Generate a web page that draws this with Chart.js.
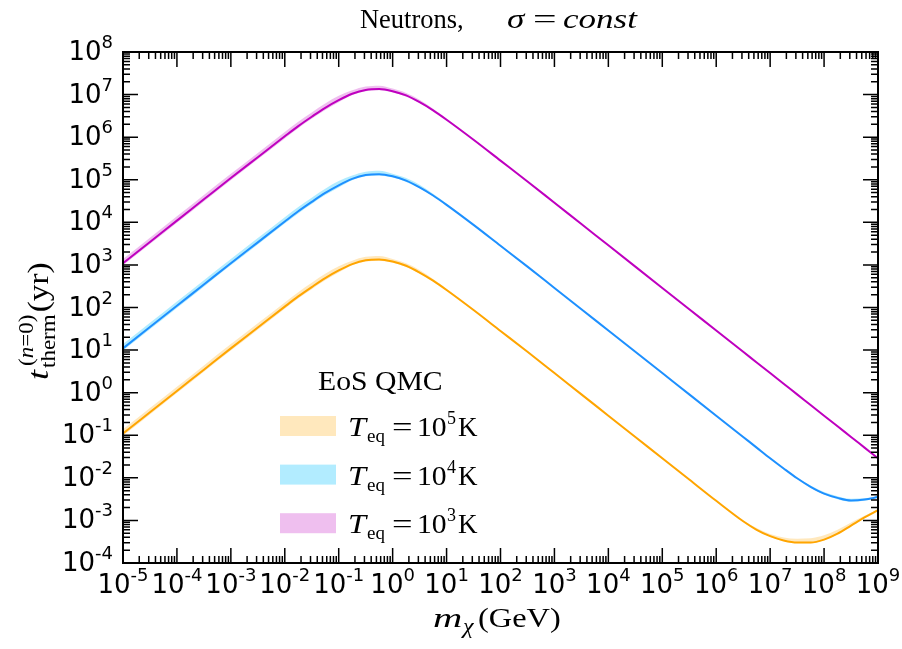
<!DOCTYPE html>
<html>
<head>
<meta charset="utf-8">
<script src="https://cdn.jsdelivr.net/npm/chart.js@4"></script>
<style>
  html, body { margin: 0; padding: 0; background: #fff; }
  #wrap { width: 902px; height: 649px; }
</style>
</head>
<body>
<div id="wrap"><canvas id="chart"></canvas></div>
<script>
// dark matter mass, as log10(m / GeV)
const massExp = [-5, -4.5, -4, -3.5, -3, -2.5, -2, -1.75, -1.5, -1.25, -1, -0.75, -0.5, -0.25,
  0, 0.25, 0.5, 0.75, 1, 1.5, 2, 2.5, 3, 3.5, 4, 4.5, 5, 5.5, 6, 6.5,
  6.75, 7, 7.25, 7.5, 7.75, 8, 8.25, 8.5, 8.75, 9];

// thermalisation time, as log10(t / yr)
const tEq1e5 = [-0.96, -0.46, 0.04, 0.54, 1.04, 1.53, 2.02, 2.26, 2.48, 2.69, 2.87, 3.02, 3.11, 3.13,
  3.08, 2.98, 2.82, 2.63, 2.41, 1.94, 1.45, 0.96, 0.46, -0.04, -0.54, -1.04, -1.54, -2.04, -2.54, -3.02,
  -3.22, -3.37, -3.47, -3.52, -3.52, -3.45, -3.31, -3.12, -2.93, -2.76];
const tEq1e5Hi = [-0.86, -0.36, 0.14, 0.64, 1.14, 1.63, 2.12, 2.36, 2.58, 2.79, 2.97, 3.10, 3.19, 3.21,
  3.14, 3.04, 2.88, 2.67, 2.44, 1.955, 1.465, 0.975, 0.475, -0.025, -0.525, -1.025, -1.525, -2.025, -2.525, -3.0,
  -3.18, -3.32, -3.40, -3.43, -3.42, -3.35, -3.22, -3.05, -2.89, -2.74];
const tEq1e5Lo = [-1.01, -0.51, -0.01, 0.49, 0.99, 1.48, 1.97, 2.21, 2.43, 2.64, 2.82, 2.99, 3.08, 3.10,
  3.05, 2.95, 2.80, 2.615, 2.395, 1.925, 1.435, 0.945, 0.445, -0.055, -0.555, -1.055, -1.555, -2.055, -2.555, -3.035,
  -3.235, -3.385, -3.485, -3.535, -3.535, -3.465, -3.325, -3.135, -2.945, -2.775];

const tEq1e4 = [1.04, 1.54, 2.04, 2.54, 3.04, 3.53, 4.02, 4.26, 4.48, 4.69, 4.87, 5.02, 5.11, 5.13,
  5.08, 4.98, 4.82, 4.63, 4.41, 3.94, 3.45, 2.96, 2.46, 1.96, 1.46, 0.96, 0.46, -0.04, -0.54, -1.04,
  -1.29, -1.54, -1.78, -2.01, -2.21, -2.37, -2.47, -2.53, -2.51, -2.45];
const tEq1e4Hi = [1.14, 1.64, 2.14, 2.64, 3.14, 3.63, 4.12, 4.36, 4.58, 4.79, 4.97, 5.10, 5.19, 5.21,
  5.14, 5.04, 4.88, 4.67, 4.44, 3.955, 3.465, 2.975, 2.475, 1.975, 1.475, 0.975, 0.475, -0.025, -0.525, -1.025,
  -1.275, -1.525, -1.765, -1.99, -2.18, -2.33, -2.43, -2.49, -2.48, -2.43];
const tEq1e4Lo = [0.99, 1.49, 1.99, 2.49, 2.99, 3.48, 3.97, 4.21, 4.43, 4.64, 4.82, 4.99, 5.08, 5.10,
  5.05, 4.95, 4.80, 4.615, 4.395, 3.925, 3.435, 2.945, 2.445, 1.945, 1.445, 0.945, 0.445, -0.055, -0.555, -1.055,
  -1.305, -1.555, -1.795, -2.025, -2.23, -2.39, -2.50, -2.56, -2.54, -2.47];

const tEq1e3 = [3.04, 3.54, 4.04, 4.54, 5.04, 5.53, 6.02, 6.26, 6.48, 6.69, 6.87, 7.02, 7.11, 7.13,
  7.08, 6.98, 6.82, 6.63, 6.41, 5.94, 5.45, 4.96, 4.46, 3.96, 3.46, 2.96, 2.46, 1.96, 1.46, 0.96,
  0.71, 0.46, 0.21, -0.04, -0.29, -0.54, -0.79, -1.04, -1.29, -1.54];
const tEq1e3Hi = [3.14, 3.64, 4.14, 4.64, 5.14, 5.63, 6.12, 6.36, 6.58, 6.79, 6.97, 7.10, 7.19, 7.21,
  7.14, 7.04, 6.88, 6.67, 6.44, 5.955, 5.465, 4.975, 4.475, 3.975, 3.475, 2.975, 2.475, 1.975, 1.475, 0.975,
  0.725, 0.475, 0.225, -0.025, -0.275, -0.525, -0.775, -1.025, -1.275, -1.525];
const tEq1e3Lo = [2.99, 3.49, 3.99, 4.49, 4.99, 5.48, 5.97, 6.21, 6.43, 6.64, 6.82, 6.99, 7.08, 7.10,
  7.05, 6.95, 6.80, 6.615, 6.395, 5.925, 5.435, 4.945, 4.445, 3.945, 3.445, 2.945, 2.445, 1.945, 1.445, 0.945,
  0.695, 0.445, 0.195, -0.055, -0.305, -0.555, -0.805, -1.055, -1.305, -1.555];

// tick labels (exponents of ten)
const xTickExp = [-5, -4, -3, -2, -1, 0, 1, 2, 3, 4, 5, 6, 7, 8, 9];
const yTickExp = [-4, -3, -2, -1, 0, 1, 2, 3, 4, 5, 6, 7, 8];

// legend entries: temperature exponent, line colour, band colour
const legendExp = ["5", "4", "3"];
const lineColours = ["#ffa500", "#1e90ff", "#bf00bf"];
const bandColours = ["rgba(255,165,0,0.26)", "rgba(0,191,255,0.3)", "rgba(191,0,191,0.25)"];

// turns a list of log10 values into chart points
function toPoints(ys) {
    return massExp.map((e, i) => ({ x: Math.pow(10, e), y: Math.pow(10, ys[i]) }));
}

function lineSet(ys, colour) {
    return {
        data: toPoints(ys),
        borderColor: colour,
        borderWidth: 2,
        pointRadius: 0,
        fill: false,
        cubicInterpolationMode: "monotone",
    };
}

function bandSet(ys, colour, fillTo) {
    return {
        data: toPoints(ys),
        borderWidth: 0,
        borderColor: "rgba(0,0,0,0)",
        backgroundColor: colour,
        pointRadius: 0,
        fill: fillTo,
        cubicInterpolationMode: "monotone",
    };
}

const SERIF = "'Liberation Serif', 'Times New Roman', serif";
const SANS = "'DejaVu Sans', sans-serif";

// text stretched sideways a little, to get closer to the TeX font widths
function drawText(ctx, text, font, x, y, sx) {
    sx = sx || 1;
    ctx.save();
    ctx.font = font;
    ctx.translate(x, y);
    ctx.scale(sx, 1);
    ctx.fillText(text, 0, 0);
    const w = ctx.measureText(text).width * sx;
    ctx.restore();
    return w;
}

// draws a run of pieces: [text, font, baseline offset, gap after, stretch]
function drawRun(ctx, x, y, parts) {
    parts.forEach(p => {
        x += drawText(ctx, p[0], p[1], x, y + (p[2] || 0), p[4]) + (p[3] || 0);
    });
    return x;
}

function powerWidth(ctx, exp) {
    ctx.font = "26px " + SANS;
    const a = ctx.measureText("10").width;
    ctx.font = "18px " + SANS;
    return a + ctx.measureText(exp).width;
}

const framePlugin = {
    id: "frame",
    afterDraw(chart) {
        const ctx = chart.ctx;
        const area = chart.chartArea;
        const xs = chart.scales.x, ys = chart.scales.y;
        ctx.save();
        ctx.fillStyle = "#000";
        ctx.strokeStyle = "#000";
        ctx.textBaseline = "alphabetic";
        ctx.textAlign = "left";

        // ticks on all four sides, pointing inward
        ctx.lineWidth = 1.5;
        function tick(px, horizontal, len) {
            ctx.beginPath();
            if (horizontal) {
                ctx.moveTo(px, area.bottom); ctx.lineTo(px, area.bottom - len);
                ctx.moveTo(px, area.top); ctx.lineTo(px, area.top + len);
            } else {
                ctx.moveTo(area.left, px); ctx.lineTo(area.left + len, px);
                ctx.moveTo(area.right, px); ctx.lineTo(area.right - len, px);
            }
            ctx.stroke();
        }
        xTickExp.forEach((e, i) => {
            tick(xs.getPixelForValue(Math.pow(10, e)), true, 15);
            if (i < xTickExp.length - 1) {
                for (let k = 2; k < 10; k++) tick(xs.getPixelForValue(k * Math.pow(10, e)), true, 7);
            }
        });
        yTickExp.forEach((e, i) => {
            tick(ys.getPixelForValue(Math.pow(10, e)), false, 15);
            if (i < yTickExp.length - 1) {
                for (let k = 2; k < 10; k++) tick(ys.getPixelForValue(k * Math.pow(10, e)), false, 7);
            }
        });

        ctx.lineWidth = 2;
        ctx.strokeRect(area.left, area.top, area.right - area.left, area.bottom - area.top);

        // tick labels
        xTickExp.forEach(e => {
            const s = String(e);
            const w = powerWidth(ctx, s);
            const px = xs.getPixelForValue(Math.pow(10, e));
            drawRun(ctx, px - w / 2, 593, [["10", "26px " + SANS, 0], [s, "18px " + SANS, -12]]);
        });
        yTickExp.forEach(e => {
            const s = String(e);
            const w = powerWidth(ctx, s);
            const py = ys.getPixelForValue(Math.pow(10, e));
            drawRun(ctx, 113 - w, py + 8, [["10", "26px " + SANS, 0], [s, "18px " + SANS, -12]]);
        });

        // title
        drawText(ctx, "Neutrons,", "27px " + SERIF, 360, 28, 0.98);
        drawText(ctx, "\u03c3", "italic 27px " + SERIF, 507, 28, 1.3);
        drawText(ctx, "=", "27px " + SERIF, 533, 28, 1.55);
        drawText(ctx, "const", "italic 28px " + SERIF, 563, 28, 1.25);

        // x axis label
        drawText(ctx, "m", "italic 28px " + SERIF, 433, 627, 1.45);
        drawText(ctx, "\u03c7", "italic 20px " + SERIF, 463, 633, 1.2);
        drawText(ctx, "(GeV)", "27px " + SERIF, 478, 627, 1.2);

        // y axis label, rotated
        ctx.save();
        ctx.translate(48, 380);
        ctx.rotate(-Math.PI / 2);
        const tw = drawText(ctx, "t", "italic 30px " + SERIF, 0, 0, 1.2) + 2;
        const subW = drawText(ctx, "therm", "20px " + SERIF, tw, 7, 1.15);
        const supEnd = drawRun(ctx, tw + 2, -15, [["(", "20px " + SERIF, 0, 0, 1.15], ["n", "italic 20px " + SERIF, 0, 0, 1.15], ["=0)", "20px " + SERIF, 0, 0, 1.15]]);
        const start = Math.max(tw + subW, supEnd) + 2;
        drawText(ctx, "(yr)", "29px " + SERIF, start, 0, 1.15);
        ctx.restore();

        // legend
        drawText(ctx, "EoS QMC", "27px " + SERIF, 318, 390, 1.1);
        legendExp.forEach((exp, i) => {
            const base = 436 + i * 48.6;
            ctx.fillStyle = bandColours[i];
            ctx.fillRect(280, base - 20, 56, 20);
            ctx.fillStyle = "#000";
            drawText(ctx, "T", "italic 27px " + SERIF, 348, base, 1.2);
            drawText(ctx, "eq", "19px " + SERIF, 367, base + 6, 1.0);
            drawText(ctx, "=", "27px " + SERIF, 392, base, 1.35);
            drawText(ctx, "10", "27px " + SERIF, 417, base, 1.1);
            drawText(ctx, exp, "18px " + SERIF, 447, base - 12, 1.0);
            drawText(ctx, "K", "27px " + SERIF, 458, base, 1.0);
        });
        ctx.restore();
    }
};

new Chart(document.getElementById("chart"), {
    type: "line",
    data: {
        datasets: [
            lineSet(tEq1e5, lineColours[0]),
            lineSet(tEq1e4, lineColours[1]),
            lineSet(tEq1e3, lineColours[2]),
            bandSet(tEq1e5Hi, bandColours[0], "+1"),
            bandSet(tEq1e5Lo, bandColours[0], false),
            bandSet(tEq1e4Hi, bandColours[1], "+1"),
            bandSet(tEq1e4Lo, bandColours[1], false),
            bandSet(tEq1e3Hi, bandColours[2], "+1"),
            bandSet(tEq1e3Lo, bandColours[2], false),
        ]
    },
    options: {
        responsive: true,
        maintainAspectRatio: false,
        animation: false,
        layout: { padding: { left: 123, right: 24, top: 52, bottom: 86 } },
        scales: {
            x: { type: "logarithmic", min: 1e-5, max: 1e9, display: false },
            y: { type: "logarithmic", min: 1e-4, max: 1e8, display: false }
        },
        plugins: {
            legend: { display: false },
            tooltip: { enabled: false }
        }
    },
    plugins: [framePlugin]
});
</script>
</body>
</html>
